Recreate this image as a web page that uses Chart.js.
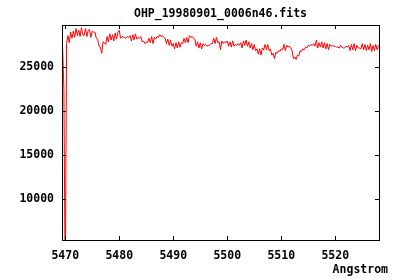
<!DOCTYPE html>
<html>
<head>
<meta charset="utf-8">
<script src="https://cdn.jsdelivr.net/npm/chart.js@4"></script>
<style>
  html, body { margin: 0; padding: 0; background: #fff; }
  #wrap { width: 400px; height: 280px; }
</style>
</head>
<body>
<div id="wrap"><canvas id="spec"></canvas></div>
<script>
// --- données ---
const titleText = 'OHP_19980901_0006n46.fits';
const xLabel = 'Angstrom';
const lambdaStart = 5469.5;   // premier échantillon
const lambdaStep = 0.25;      // pas d'échantillonnage (Å)
const flux = [
  27300, 22500, 0, 27600, 28500, 27700, 28900, 28200,
  29000, 28300, 29300, 28500, 29100, 28400, 29400, 28600,
  28500, 29300, 28400, 29100, 29200, 28300, 29000, 28900,
  28900, 28200, 28100, 27300, 27200, 26500, 27800, 27700,
  27500, 28400, 27800, 28700, 28000, 28600, 27900, 28800,
  28100, 28900, 29100, 28200, 28400, 28300, 28300, 28200,
  28400, 28300, 28500, 27900, 28600, 28000, 28700, 28100,
  28300, 28200, 28400, 27800, 27900, 27600, 27800, 27700,
  28200, 27700, 28400, 27600, 28300, 28100, 28400, 28300,
  28600, 28400, 28500, 28300, 28200, 27600, 28100, 27400,
  28000, 27300, 27600, 27000, 27700, 27100, 27800, 27200,
  27700, 27600, 28200, 27700, 28300, 27700, 28500, 28300,
  28400, 28200, 28100, 27300, 27800, 27100, 27700, 27000,
  27600, 27400, 27500, 27300, 27400, 27400, 27600, 27600,
  28200, 27600, 28300, 27700, 27800, 26900, 27900, 27600,
  27800, 27700, 27900, 27300, 27800, 27200, 27900, 27300,
  27500, 27400, 27600, 27400, 27700, 27100, 27900, 27400,
  28000, 27300, 27800, 27100, 27600, 26900, 27500, 26800,
  27000, 26400, 27000, 26300, 27100, 26900, 27500, 26900,
  27500, 26800, 27000, 26300, 26500, 25900, 26600, 26500,
  26800, 26700, 27000, 26900, 27500, 26800, 27400, 27200,
  27300, 27100, 26800, 25900, 26100, 25800, 26300, 26200,
  26800, 26700, 27000, 26900, 27200, 27100, 27400, 27300,
  27500, 27400, 27600, 27300, 28000, 27100, 27700, 27200,
  27800, 27100, 27700, 27000, 27600, 26900, 27500, 27300,
  27400, 27300, 27300, 27200, 27200, 27100, 27400, 27200,
  27100, 27100, 27300, 27200, 27400, 26800, 27500, 26900,
  27600, 26800, 27400, 27100, 27100, 27000, 27600, 26900,
  27500, 26800, 27400, 26900, 27600, 26700, 27400, 26800,
  27500, 26900, 27400
];
const xTicks = [5470, 5480, 5490, 5500, 5510, 5520];
const yTicks = [10000, 15000, 20000, 25000];
const xRange = [5469.4, 5528.1];
const yRange = [5400, 29700];

const points = flux.map((v, i) => ({ x: lambdaStart + i * lambdaStep, y: v }));

const FONT = 'bold 11.5px "DejaVu Sans Mono", monospace';
const tickFont = { family: 'DejaVu Sans Mono', size: 11.5, weight: 'bold' };

// --- cadre, graduations intérieures et textes façon gnuplot ---
const gnuplotFrame = {
  id: 'gnuplotFrame',
  afterDatasetsDraw(chart) {
    const { ctx, chartArea: a, scales } = chart;
    const t = 4;
    ctx.save();
    ctx.strokeStyle = '#000';
    ctx.lineWidth = 1;
    ctx.beginPath();
    xTicks.forEach(v => {
      const px = Math.round(scales.x.getPixelForValue(v)) + 0.5;
      ctx.moveTo(px, a.bottom); ctx.lineTo(px, a.bottom - t);
      ctx.moveTo(px, a.top); ctx.lineTo(px, a.top + t);
    });
    yTicks.forEach(v => {
      const py = Math.round(scales.y.getPixelForValue(v)) + 0.5;
      ctx.moveTo(a.left, py); ctx.lineTo(a.left + t, py);
      ctx.moveTo(a.right, py); ctx.lineTo(a.right - t, py);
    });
    ctx.stroke();
    ctx.strokeRect(Math.round(a.left) + 0.5, Math.round(a.top) + 0.5,
                   Math.round(a.right - a.left), Math.round(a.bottom - a.top));

    ctx.fillStyle = '#000';
    ctx.font = FONT;
    ctx.textBaseline = 'middle';
    ctx.textAlign = 'center';
    ctx.fillText(titleText, (a.left + a.right) / 2, 14);
    ctx.textAlign = 'right';
    ctx.fillText(xLabel, 388, 270);
    ctx.restore();
  }
};

new Chart(document.getElementById('spec'), {
  type: 'line',
  data: {
    datasets: [{
      data: points,
      borderColor: '#ff0000',
      borderWidth: 1,
      pointRadius: 0,
      tension: 0,
      fill: false
    }]
  },
  options: {
    responsive: true,
    maintainAspectRatio: false,
    animation: false,
    layout: { padding: { top: 25, right: 21, bottom: 0, left: 0 } },
    plugins: { legend: { display: false }, tooltip: { enabled: false } },
    scales: {
      x: {
        type: 'linear',
        min: xRange[0], max: xRange[1],
        afterBuildTicks: s => { s.ticks = xTicks.map(v => ({ value: v })); },
        afterFit: s => { s.height = 40; },
        grid: { display: false, drawTicks: false },
        border: { display: false },
        ticks: { color: '#000', padding: 9, maxRotation: 0, callback: v => String(v), font: tickFont }
      },
      y: {
        min: yRange[0], max: yRange[1],
        afterBuildTicks: s => { s.ticks = yTicks.map(v => ({ value: v })); },
        afterFit: s => { s.width = 62; },
        grid: { display: false, drawTicks: false },
        border: { display: false },
        ticks: { color: '#000', padding: 8, callback: v => String(v), font: tickFont }
      }
    }
  },
  plugins: [gnuplotFrame]
});
</script>
</body>
</html>
